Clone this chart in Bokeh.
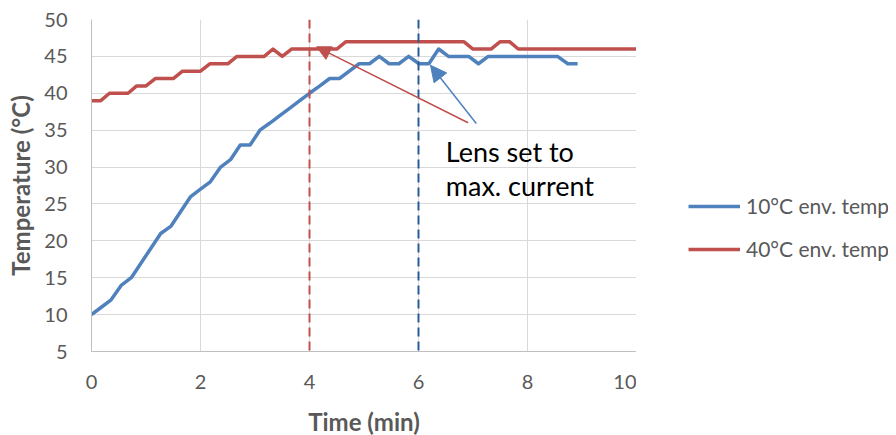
from bokeh.plotting import figure
from bokeh.layouts import row
from bokeh.models import (Range1d, FixedTicker, Span, Label, Arrow, NormalHead,
                          Legend, LegendItem)
from bokeh.embed import file_html
from bokeh.resources import INLINE

# ---- data ----
time_10c = [0.00, 0.18, 0.36, 0.55, 0.73, 0.91, 1.09, 1.27, 1.46, 1.64,
            1.82, 2.00, 2.18, 2.37, 2.55, 2.73, 2.91, 3.09, 3.28, 3.46,
            3.64, 3.82, 4.00, 4.19, 4.37, 4.55, 4.73, 4.91, 5.10, 5.28,
            5.46, 5.64, 5.82, 6.01, 6.19, 6.37, 6.55, 6.73, 6.92, 7.10,
            7.28, 7.46, 7.64, 7.83, 8.01, 8.19, 8.37, 8.55, 8.74, 8.92]
temp_10c = [10, 11, 12, 14, 15, 17, 19, 21, 22, 24,
            26, 27, 28, 30, 31, 33, 33, 35, 36, 37,
            38, 39, 40, 41, 42, 42, 43, 44, 44, 45,
            44, 44, 45, 44, 44, 46, 45, 45, 45, 44,
            45, 45, 45, 45, 45, 45, 45, 45, 44, 44]

time_40c = [0.00, 0.17, 0.33, 0.50, 0.67, 0.83, 1.00, 1.17, 1.33, 1.50,
            1.67, 1.83, 2.00, 2.17, 2.33, 2.50, 2.67, 2.83, 3.00, 3.17,
            3.33, 3.50, 3.67, 3.83, 4.00, 4.17, 4.33, 4.50, 4.67, 4.83,
            5.00, 5.17, 5.33, 5.50, 5.67, 5.83, 6.00, 6.17, 6.33, 6.50,
            6.67, 6.83, 7.00, 7.17, 7.33, 7.50, 7.67, 7.83, 8.00, 8.17,
            8.33, 8.50, 8.67, 8.83, 9.00, 9.17, 9.33, 9.50, 9.67, 9.83,
            10.00]
temp_40c = [39, 39, 40, 40, 40, 41, 41, 42, 42, 42,
            43, 43, 43, 44, 44, 44, 45, 45, 45, 45,
            46, 45, 46, 46, 46, 46, 46, 46, 47, 47,
            47, 47, 47, 47, 47, 47, 47, 47, 47, 47,
            47, 47, 46, 46, 46, 47, 47, 46, 46, 46,
            46, 46, 46, 46, 46, 46, 46, 46, 46, 46,
            46]

x_ticks = [0, 2, 4, 6, 8, 10]
y_ticks = [5, 10, 15, 20, 25, 30, 35, 40, 45, 50]
marker_times = [4, 6]
series_names = ["10°C env. temp", "40°C env. temp"]
note_lines = ["Lens set to", "max. current"]

BLUE = "#4F81BD"
RED = "#C0504D"
DARK_BLUE = "#2C5A96"
GREY_TXT = "#595959"
FONT = "Lato"
TOTAL_H = 431

p = figure(frame_width=545, frame_height=332, output_backend="svg",
           toolbar_location=None,
           x_range=Range1d(0, 10), y_range=Range1d(5, 50),
           min_border_left=91, min_border_right=0, min_border_top=19,
           min_border_bottom=80)
p.outline_line_color = None

for ax, ticks in ((p.xaxis[0], x_ticks), (p.yaxis[0], y_ticks)):
    ax.ticker = FixedTicker(ticks=ticks)
    ax.major_tick_line_color = None
    ax.minor_tick_line_color = None
    ax.axis_line_color = "#BFBFBF"
    ax.major_label_text_font = FONT
    ax.major_label_text_font_size = "20px"
    ax.major_label_text_color = GREY_TXT
    ax.axis_label_text_font = FONT
    ax.axis_label_text_font_size = "24px"
    ax.axis_label_text_font_style = "bold"
    ax.axis_label_text_color = GREY_TXT

p.xaxis.axis_label = "Time (min)"
p.yaxis.axis_label = "Temperature (°C)"
p.xaxis.major_label_standoff = 17
p.xaxis.axis_label_standoff = 15
p.yaxis.major_label_standoff = 18
p.yaxis.axis_label_standoff = 6

p.xgrid.grid_line_color = "#D9D9D9"
p.ygrid.grid_line_color = "#D9D9D9"

r10 = p.line(time_10c, temp_10c, line_color=BLUE, line_width=3.5, line_join="round")
r40 = p.line(time_40c, temp_40c, line_color=RED, line_width=3.5, line_join="round")

p.add_layout(Span(location=marker_times[0], dimension="height", line_color=RED,
                  line_width=2, line_dash="9 5"))
p.add_layout(Span(location=marker_times[1], dimension="height", line_color=DARK_BLUE,
                  line_width=2, line_dash="9 5"))

# annotation arrows
p.add_layout(Arrow(x_start=6.91, y_start=36.0, x_end=4.13, y_end=46.3,
                   line_color=RED, line_width=1.5,
                   end=NormalHead(size=14, fill_color=RED, line_color=RED)))
p.add_layout(Arrow(x_start=7.06, y_start=35.9, x_end=6.22, y_end=43.8,
                   line_color=BLUE, line_width=1.5,
                   end=NormalHead(size=16, fill_color=BLUE, line_color=BLUE)))

p.add_layout(Label(x=6.5, y=32.1, text=note_lines[0], text_font=FONT,
                   text_font_size="27px", text_color="black",
                   text_baseline="alphabetic"))
p.add_layout(Label(x=6.5, y=27.5, text=note_lines[1], text_font=FONT,
                   text_font_size="27px", text_color="black",
                   text_baseline="alphabetic"))

# legend in a side panel figure
lg = figure(width=252, height=TOTAL_H, output_backend="svg", toolbar_location=None,
            x_range=Range1d(0, 1), y_range=Range1d(0, 1),
            x_axis_type=None, y_axis_type=None, min_border=0)
lg.outline_line_color = None
lg.grid.visible = False
d10 = lg.line([2, 3], [2, 3], line_color=BLUE, line_width=3.5)
d40 = lg.line([2, 3], [2, 3], line_color=RED, line_width=3.5)
legend = Legend(items=[LegendItem(label=series_names[0], renderers=[d10]),
                       LegendItem(label=series_names[1], renderers=[d40])],
                location=(52, 83), orientation="vertical",
                glyph_width=52, glyph_height=20, spacing=18, padding=0, margin=0,
                label_standoff=6, label_text_font=FONT, label_text_font_size="21px",
                label_text_color=GREY_TXT, border_line_alpha=0,
                background_fill_alpha=0)
lg.add_layout(legend, "center")

layout = row(p, lg, spacing=0)
open("out.html", "w").write(file_html(layout, INLINE))
